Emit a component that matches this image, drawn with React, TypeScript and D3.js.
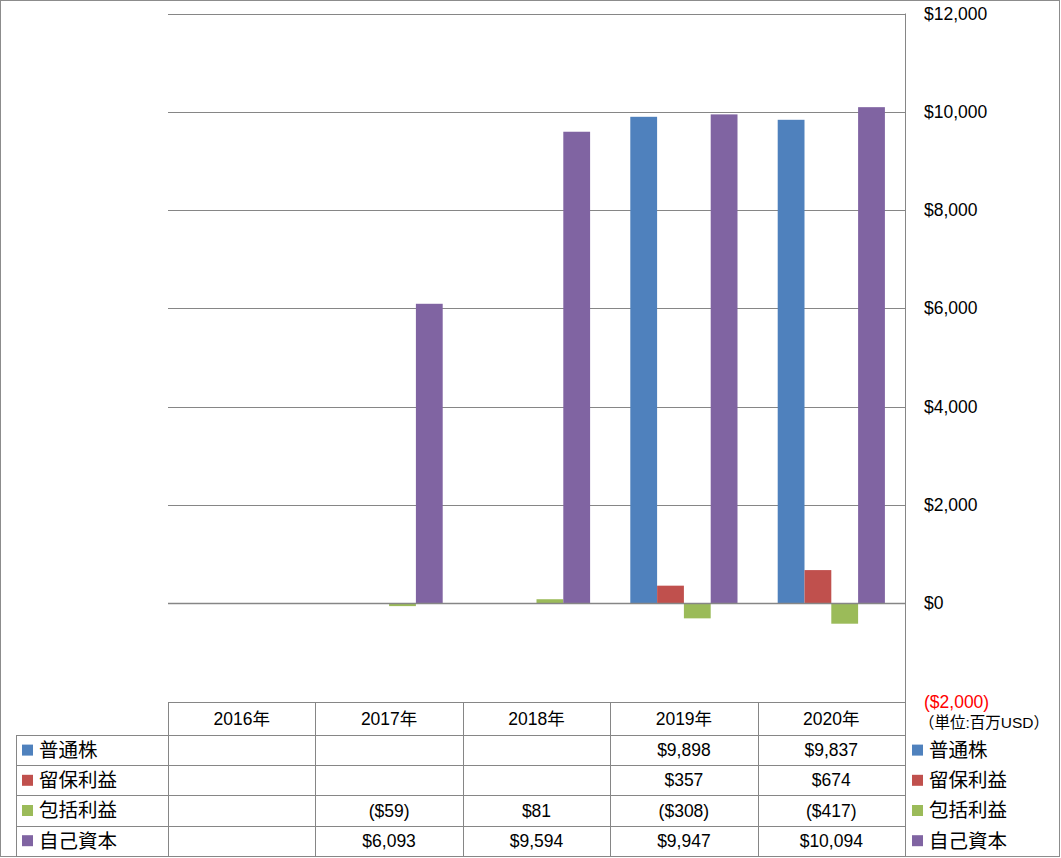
import React from "react";
import * as d3 from "d3";

const years = ["2016年", "2017年", "2018年", "2019年", "2020年"];
const seriesNames = ["普通株", "留保利益", "包括利益", "自己資本"];
const seriesColors = ["#4F81BD", "#C0504D", "#9BBB59", "#8064A2"];
const commonStock: (number | null)[] = [null, null, null, 9898, 9837];
const retained: (number | null)[] = [null, null, null, 357, 674];
const comprehensive: (number | null)[] = [null, -59, 81, -308, -417];
const equity: (number | null)[] = [null, 6093, 9594, 9947, 10094];
const yTicks = [12000, 10000, 8000, 6000, 4000, 2000, 0, -2000];

const W = 1061;
const H = 858;
const left = 168;
const right = 905;
const top = 13.5;
const bottom = 701.5;
const tableLeft = 16;
const headerBottom = 735;
const rowH = 30.2;

const fmt = (v: number) => {
  const s = "$" + d3.format(",")(Math.abs(v));
  return v < 0 ? "(" + s + ")" : s;
};

export default function App() {
  const series = [commonStock, retained, comprehensive, equity];
  const x = d3.scaleBand<string>().domain(years).range([left, right]).padding(0);
  const inner = d3
    .scaleBand<string>()
    .domain(seriesNames)
    .range([0, x.bandwidth()])
    .paddingInner(0)
    .paddingOuter(0.75);
  const y = d3.scaleLinear().domain([-2000, 12000]).range([bottom, top]);
  const font = "'Liberation Sans', 'Noto Sans CJK JP', sans-serif";
  const grid = "#868686";

  return (
    <svg
      width={W}
      height={H}
      style={{ position: "absolute", left: 0, top: 0, background: "#fff" }}
      fontFamily={font}
    >
      <rect x={0.5} y={0.5} width={W - 2} height={H - 2} fill="#fff" stroke="#8c8c8c" />
      {yTicks
        .filter((t) => t > 0)
        .map((t) => (
          <line key={t} x1={left} x2={right} y1={Math.round(y(t)) + 0.5} y2={Math.round(y(t)) + 0.5} stroke={grid} />
        ))}
      {series.map((vals, si) =>
        vals.map((v, ci) => {
          if (v === null) return null;
          const bx = (x(years[ci]) as number) + (inner(seriesNames[si]) as number);
          const y0 = y(0);
          const y1 = y(v);
          return (
            <rect
              key={si + "-" + ci}
              x={bx}
              y={Math.min(y0, y1)}
              width={inner.bandwidth()}
              height={Math.abs(y1 - y0)}
              fill={seriesColors[si]}
            />
          );
        })
      )}
      <line x1={left} x2={right} y1={Math.round(y(0)) + 0.5} y2={Math.round(y(0)) + 0.5} stroke={grid} strokeWidth={1.5} />
      <line x1={right + 0.5} x2={right + 0.5} y1={top} y2={856} stroke={grid} />
      {yTicks.map((t) => (
        <text
          key={t}
          x={924}
          y={y(t)}
          dy="0.35em"
          fontSize={17.5}
          fill={t < 0 ? "#FF0000" : "#000"}
        >
          {fmt(t)}
        </text>
      ))}
      <text x={919} y={723} dy="0.35em" fontSize={15.5}>
        （単位:百万USD）
      </text>
      {/* table */}
      <line x1={left} x2={right} y1={702.5} y2={702.5} stroke={grid} />
      {[0, 1, 2, 3, 4].map((i) => (
        <line
          key={"h" + i}
          x1={tableLeft}
          x2={right}
          y1={Math.round(headerBottom + i * rowH) + 0.5}
          y2={Math.round(headerBottom + i * rowH) + 0.5}
          stroke={grid}
        />
      ))}
      <line x1={tableLeft + 0.5} x2={tableLeft + 0.5} y1={headerBottom} y2={856} stroke={grid} />
      {years.map((yr) => (
        <line
          key={"v" + yr}
          x1={Math.round(x(yr) as number) + 0.5}
          x2={Math.round(x(yr) as number) + 0.5}
          y1={702}
          y2={856}
          stroke={grid}
        />
      ))}
      {years.map((yr) => (
        <text
          key={"yl" + yr}
          x={(x(yr) as number) + x.bandwidth() / 2}
          y={718.5}
          dy="0.35em"
          textAnchor="middle"
          fontSize={17.5}
        >
          {yr}
        </text>
      ))}
      {seriesNames.map((name, si) => {
        const cy = headerBottom + si * rowH + rowH / 2;
        return (
          <g key={"row" + si}>
            <rect x={22} y={cy - 5.5} width={11} height={11} fill={seriesColors[si]} />
            <text x={39} y={cy} dy="0.35em" fontSize={19.5}>
              {name}
            </text>
            <rect x={912} y={cy - 5.5} width={11} height={11} fill={seriesColors[si]} />
            <text x={929} y={cy} dy="0.35em" fontSize={19.5}>
              {name}
            </text>
            {series[si].map((v, ci) =>
              v === null ? null : (
                <text
                  key={"c" + ci}
                  x={(x(years[ci]) as number) + x.bandwidth() / 2}
                  y={cy}
                  dy="0.35em"
                  textAnchor="middle"
                  fontSize={17.5}
                >
                  {fmt(v)}
                </text>
              )
            )}
          </g>
        );
      })}
    </svg>
  );
}
